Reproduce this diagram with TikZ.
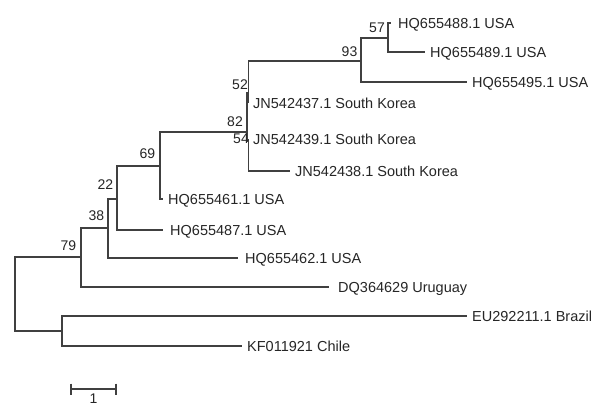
\documentclass[tikz,border=0pt]{standalone}
\usepackage{fontspec}
\setmainfont{Liberation Sans}
\definecolor{linec}{HTML}{404040}
\definecolor{txt}{HTML}{262626}
\begin{document}
\begin{tikzpicture}[x=1pt,y=-1pt,
  br/.style={draw=linec, line width=1.1pt},
  leaf/.style={anchor=west, inner sep=0pt, text height=10.4pt, text depth=0pt,
    font=\fontsize{14.5}{16}\selectfont, text=txt},
  boot/.style={anchor=center, inner sep=0pt, text height=10.4pt, text depth=0pt,
    font=\fontsize{14}{16}\selectfont, text=txt}]
\useasboundingbox (0,0) rectangle (597,406);
\fill[white] (0,0) rectangle (597,406);

% internal nodes
\coordinate (r)   at (15,294);
\coordinate (n79) at (81,257);
\coordinate (nbc) at (62,331);
\coordinate (n38) at (108,228);
\coordinate (n22) at (117,199);
\coordinate (n69) at (160,166);
\coordinate (n82) at (247,132);
\coordinate (n52) at (248.5,93);
\coordinate (n54) at (248.5,141);
\coordinate (n93) at (361,61);
\coordinate (n57) at (388,38);

% leaves
\node[leaf] (l488) at (398,23)  {HQ655488.1 USA};
\node[leaf] (l489) at (430,52)  {HQ655489.1 USA};
\node[leaf] (l495) at (472,82)  {HQ655495.1 USA};
\node[leaf] (l437) at (253,103) {JN542437.1 South Korea};
\node[leaf] (l439) at (253,139) {JN542439.1 South Korea};
\node[leaf] (l438) at (295,171) {JN542438.1 South Korea};
\node[leaf] (l461) at (168,199) {HQ655461.1 USA};
\node[leaf] (l487) at (170,230) {HQ655487.1 USA};
\node[leaf] (l462) at (245,258) {HQ655462.1 USA};
\node[leaf] (luru) at (338,287) {DQ364629 Uruguay};
\node[leaf] (lbra) at (472,316) {EU292211.1 Brazil};
\node[leaf] (lchi) at (247,346) {KF011921 Chile};

% branches
\draw[br] (r) |- (n79);
\draw[br] (r) |- (nbc);
\draw[br] (n79) |- (n38);
\draw[br,shorten >=9pt] (n79) |- (luru.west);
\draw[br] (n38) |- (n22);
\draw[br,shorten >=7pt] (n38) |- (l462.west);
\draw[br] (n22) |- (n69);
\draw[br,shorten >=7pt] (n22) |- (l487.west);
\draw[br] (n69) |- (n82);
\draw[br,shorten >=5pt] (n69) |- (l461.west);
\draw[br] (n82) |- (n52);
\draw[br] (n82) |- (n54);
\draw[br] (n52) |- (n93);
\draw[br,shorten >=4.5pt] (n52) |- (l437.west);
\draw[br,shorten >=4.5pt] (n54) |- (l439.west);
\draw[br,shorten >=5pt] (n54) |- (l438.west);
\draw[br] (n93) |- (n57);
\draw[br,shorten >=5pt] (n93) |- (l495.west);
\draw[br,shorten >=7pt] (n57) |- (l488.west);
\draw[br,shorten >=5pt] (n57) |- (l489.west);
\draw[br,shorten >=5pt] (nbc) |- (lbra.west);
\draw[br,shorten >=5pt] (nbc) |- (lchi.west);

% bootstrap values
\node[boot] (b57) at (377,27.5) {57};
\node[boot] (b93) at (349.5,51) {93};
\node[boot] (b52) at (240,84) {52};
\node[boot] (b82) at (235,121) {82};
\node[boot] (b54) at (241,138) {54};
\node[boot] (b69) at (147.5,153) {69};
\node[boot] (b22) at (105.5,184) {22};
\node[boot] (b38) at (96.5,215) {38};
\node[boot] (b79) at (68.5,245) {79};

% scale bar
\coordinate (s1) at (71,389);
\coordinate (s2) at (116,389);
\draw[br] (s1) -- (s2);
\draw[br] ([yshift=5.5pt]s1) -- ([yshift=-5.5pt]s1);
\draw[br] ([yshift=5.5pt]s2) -- ([yshift=-5.5pt]s2);
\node[boot,anchor=north] (sl) at (93.5,393) {1};
\end{tikzpicture}
\end{document}
